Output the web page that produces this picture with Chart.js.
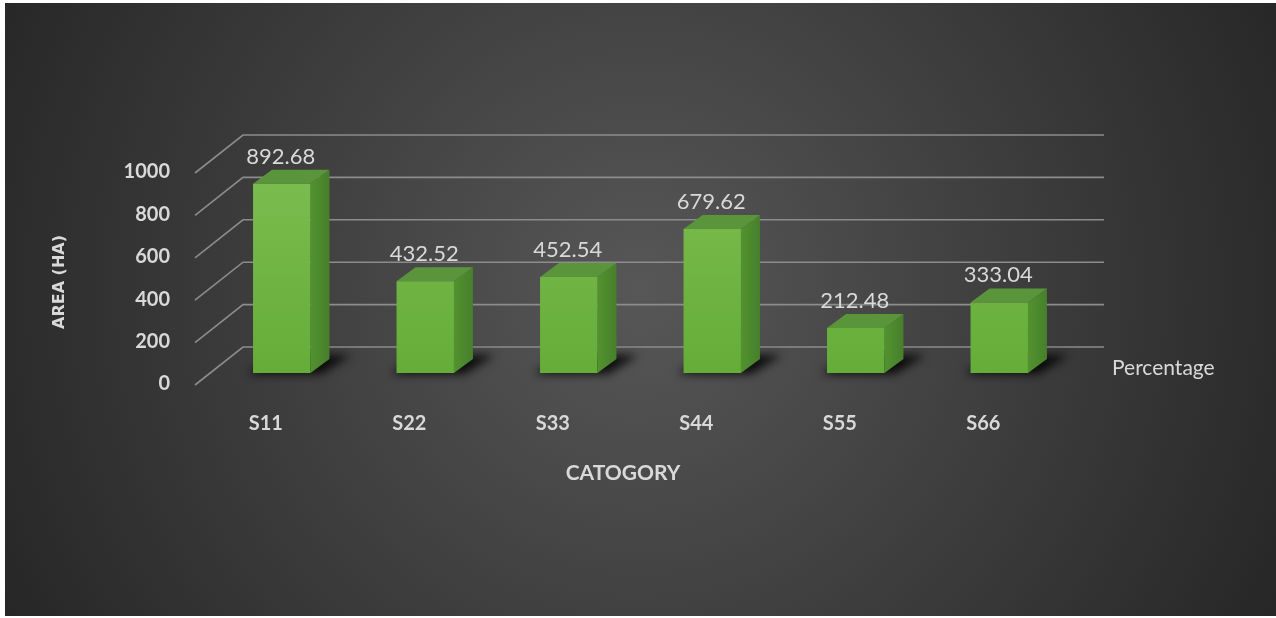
<!DOCTYPE html>
<html>
<head>
<meta charset="utf-8">
<script src="https://cdn.jsdelivr.net/npm/chart.js@4.4.1/dist/chart.umd.min.js"></script>
<style>
    html, body { margin: 0; padding: 0; background: #ffffff; overflow: hidden; }
    #wrap { width: 1276px; height: 618px; }
</style>
</head>
<body>
<div id="wrap"><canvas id="areaChart" width="1276" height="618"></canvas></div>
<script>
// chart data
const categories = ['S11', 'S22', 'S33', 'S44', 'S55', 'S66'];
const areaValues = [892.68, 432.52, 452.54, 679.62, 212.48, 333.04];
const yTicks = [0, 200, 400, 600, 800, 1000];
const seriesName = 'Percentage';
const xTitle = 'CATOGORY';
const yTitle = 'AREA (HA)';

const textColor = '#d9d9d9';
const gridColor = '#8c8c8c';
const fontFamily = 'Lato, "Open Sans", sans-serif';

// 3D look: bar depth and wall offset (pixels)
const barDepth = { dx: 19, dy: -14 };
const wallBack = { dx: 33, dy: -26 };
const wallFront = { dx: -15, dy: 12 };

// background, white frame strips
const backgroundPlugin = {
    id: 'background',
    beforeDraw(chart) {
        const ctx = chart.ctx;
        const w = chart.width, h = chart.height;
        ctx.save();
        ctx.fillStyle = '#ffffff';
        ctx.fillRect(0, 0, w, h);
        const g = ctx.createRadialGradient(640, 290, 0, 640, 290, 720);
        g.addColorStop(0, '#575757');
        g.addColorStop(0.55, '#3c3c3c');
        g.addColorStop(1, '#262626');
        ctx.fillStyle = g;
        ctx.fillRect(5, 3, w, h - 5);
        ctx.restore();
    }
};

// back wall gridlines, diagonals, shadows and the side/top faces of bars
const threeDPlugin = {
    id: 'threeD',
    beforeDatasetsDraw(chart) {
        const ctx = chart.ctx;
        const y = chart.scales.y;
        const area = chart.chartArea;
        ctx.save();
        ctx.strokeStyle = gridColor;
        ctx.lineWidth = 1.6;
        const backLeft = area.left + wallBack.dx;
        const backRight = 1104;
        yTicks.forEach(v => {
            const py = y.getPixelForValue(v);
            ctx.beginPath();
            ctx.moveTo(area.left + wallFront.dx, py + wallFront.dy);
            ctx.lineTo(backLeft, py + wallBack.dy);
            ctx.lineTo(backRight, py + wallBack.dy);
            ctx.stroke();
        });

        // floor shadows
        const meta = chart.getDatasetMeta(0);
        meta.data.forEach(bar => {
            const left = bar.x - bar.width / 2;
            const right = bar.x + bar.width / 2;
            const base = bar.base;
            ctx.save();
            ctx.filter = 'blur(5px)';
            ctx.fillStyle = 'rgba(0,0,0,0.85)';
            ctx.beginPath();
            ctx.moveTo(left - 6, base + 1);
            ctx.lineTo(right + 10, base + 1);
            ctx.lineTo(right + barDepth.dx + 22, base + barDepth.dy - 4);
            ctx.lineTo(left + barDepth.dx + 4, base + barDepth.dy - 4);
            ctx.closePath();
            ctx.fill();
            ctx.restore();
        });

        meta.data.forEach(bar => {
            const left = bar.x - bar.width / 2;
            const right = bar.x + bar.width / 2;
            const top = bar.y;
            const base = bar.base;
            // side face
            const sg = ctx.createLinearGradient(right, 0, right + barDepth.dx, 0);
            sg.addColorStop(0, '#52922f');
            sg.addColorStop(1, '#477f2b');
            ctx.fillStyle = sg;
            ctx.beginPath();
            ctx.moveTo(right, top);
            ctx.lineTo(right + barDepth.dx, top + barDepth.dy);
            ctx.lineTo(right + barDepth.dx, base + barDepth.dy);
            ctx.lineTo(right, base);
            ctx.closePath();
            ctx.fill();
            // top face
            ctx.fillStyle = '#5b953b';
            ctx.beginPath();
            ctx.moveTo(left, top);
            ctx.lineTo(left + barDepth.dx, top + barDepth.dy);
            ctx.lineTo(right + barDepth.dx, top + barDepth.dy);
            ctx.lineTo(right, top);
            ctx.closePath();
            ctx.fill();
        });
        ctx.restore();
    },
    afterDatasetsDraw(chart) {
        const ctx = chart.ctx;
        const meta = chart.getDatasetMeta(0);
        ctx.save();
        ctx.fillStyle = textColor;
        ctx.font = '22px ' + fontFamily;
        ctx.textAlign = 'center';
        ctx.textBaseline = 'middle';
        meta.data.forEach((bar, i) => {
            ctx.fillText(areaValues[i].toFixed(2), bar.x - 1, bar.y - 27);
        });

        // axis titles and depth-axis label
        ctx.font = 'bold 21px ' + fontFamily;
        ctx.fillText(xTitle, 623, 473);
        ctx.font = '21px ' + fontFamily;
        ctx.textAlign = 'left';
        ctx.fillText(seriesName, 1112, 368);
        ctx.save();
        ctx.translate(60, 282);
        ctx.rotate(-Math.PI / 2);
        ctx.textAlign = 'center';
        ctx.font = 'bold 16px "DejaVu Sans", sans-serif';
        ctx.fillText(yTitle, 0, 0);
        ctx.restore();
        ctx.restore();
    }
};

function frontFill(context) {
    const chart = context.chart;
    const area = chart.chartArea;
    if (!area) return '#6db33f';
    const g = chart.ctx.createLinearGradient(0, area.top, 0, area.bottom);
    g.addColorStop(0, '#7dbd50');
    g.addColorStop(1, '#65ad38');
    return g;
}

const ctx = document.getElementById('areaChart').getContext('2d');
new Chart(ctx, {
    type: 'bar',
    data: {
        labels: categories,
        datasets: [{
            label: seriesName,
            data: areaValues,
            backgroundColor: frontFill,
            borderWidth: 0,
            barPercentage: 0.4,
            categoryPercentage: 1.0
        }]
    },
    options: {
        responsive: false,
        animation: false,
        devicePixelRatio: 1,
        layout: {
            padding: { left: 0, top: 161, right: 205, bottom: 0 }
        },
        plugins: {
            legend: { display: false },
            tooltip: { enabled: false }
        },
        scales: {
            x: {
                grid: { display: false, drawTicks: false },
                border: { display: false },
                ticks: {
                    color: textColor,
                    font: { family: fontFamily, size: 20, weight: 'bold' },
                    padding: 39,
                    labelOffset: -16
                },
                afterFit(scale) { scale.height = 245; }
            },
            y: {
                min: 0,
                max: 1000,
                grid: { display: false, drawTicks: false },
                border: { display: false },
                ticks: {
                    stepSize: 200,
                    color: textColor,
                    font: { family: fontFamily, size: 20, weight: 'bold' },
                    padding: 40,
                    labelOffset: 11,
                    callback: v => String(v)
                },
                afterFit(scale) { scale.width = 210; }
            }
        }
    },
    plugins: [backgroundPlugin, threeDPlugin]
});
</script>
</body>
</html>
